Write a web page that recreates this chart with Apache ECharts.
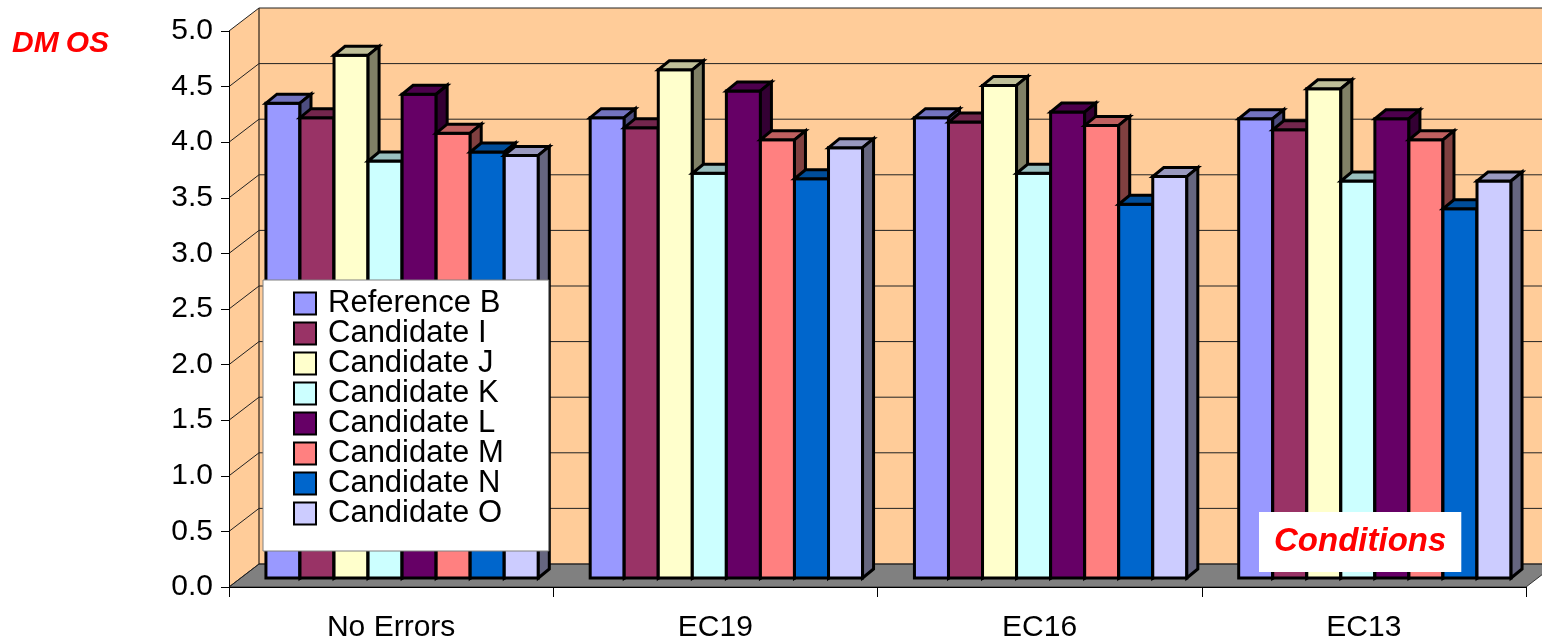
<!DOCTYPE html>
<html>
<head>
<meta charset="utf-8">
<script src="https://cdn.jsdelivr.net/npm/echarts@6/dist/echarts.min.js"></script>
<style>
  html, body { margin: 0; padding: 0; background: #ffffff; }
  #chart { width: 1542px; height: 643px; }
</style>
</head>
<body>
<div id="chart"></div>
<script>
// ---- data ----
const categories = ['No Errors', 'EC19', 'EC16', 'EC13'];
const seriesNames = ['Reference B', 'Candidate I', 'Candidate J', 'Candidate K',
                     'Candidate L', 'Candidate M', 'Candidate N', 'Candidate O'];
const referenceB = [4.27, 4.14, 4.14, 4.13];
const candidateI = [4.14, 4.05, 4.10, 4.03];
const candidateJ = [4.70, 4.57, 4.43, 4.40];
const candidateK = [3.75, 3.64, 3.64, 3.57];
const candidateL = [4.35, 4.38, 4.19, 4.13];
const candidateM = [4.00, 3.94, 4.07, 3.94];
const candidateN = [3.83, 3.59, 3.36, 3.32];
const candidateO = [3.80, 3.87, 3.61, 3.57];
const yTicks = [0, 0.5, 1, 1.5, 2, 2.5, 3, 3.5, 4, 4.5, 5];

const seriesValues = [referenceB, candidateI, candidateJ, candidateK,
                      candidateL, candidateM, candidateN, candidateO];
const seriesColors = ['#9999FF', '#993366', '#FFFFCC', '#CCFFFF',
                      '#660066', '#FF8080', '#0066CC', '#CCCCFF'];

// ---- 3D look ----
const WALL_DX = 30, WALL_DY = -23;     // depth of the whole plot box
const FRONT_DX = 11, FRONT_DY = -9;    // bar front plane inside the box
const BAR_DX = 11, BAR_DY = -9;        // depth of each bar
const GROUP_RATIO = 0.84;
const WALL_COLOR = '#FFCC99';
const FLOOR_COLOR = '#808080';
const FONT = 'Liberation Sans, Arial, sans-serif';

function shade(hex, k) {
  const n = parseInt(hex.slice(1), 16);
  const r = Math.round(((n >> 16) & 255) * k);
  const g = Math.round(((n >> 8) & 255) * k);
  const b = Math.round((n & 255) * k);
  return 'rgb(' + r + ',' + g + ',' + b + ')';
}

function renderWalls(params, api) {
  const cs = params.coordSys;
  const L = cs.x, R = cs.x + cs.width, T = cs.y, B = cs.y + cs.height;
  return {
    type: 'group',
    children: [
      { type: 'polygon', shape: { points: [[L, T], [L + WALL_DX, T + WALL_DY], [L + WALL_DX, B + WALL_DY], [L, B]] },
        style: { fill: WALL_COLOR } },
      { type: 'rect', shape: { x: L + WALL_DX, y: T + WALL_DY, width: cs.width, height: cs.height },
        style: { fill: WALL_COLOR } },
      { type: 'polygon', shape: { points: [[L, B], [R, B], [R + WALL_DX, B + WALL_DY], [L + WALL_DX, B + WALL_DY]] },
        style: { fill: FLOOR_COLOR, stroke: '#333', lineWidth: 1 } },
      { type: 'line', shape: { x1: L + WALL_DX, y1: T + WALL_DY, x2: L + WALL_DX, y2: B + WALL_DY },
        style: { stroke: '#000', lineWidth: 1 } }
    ]
  };
}

function renderGrid(params, api) {
  const cs = params.coordSys;
  const L = cs.x, R = cs.x + cs.width;
  const y = api.coord([0, api.value(1)])[1];
  return {
    type: 'group',
    children: [
      { type: 'line', shape: { x1: L + WALL_DX, y1: y + WALL_DY, x2: R + WALL_DX, y2: y + WALL_DY },
        style: { stroke: '#222', lineWidth: 1 } },
      { type: 'line', shape: { x1: L, y1: y, x2: L + WALL_DX, y2: y + WALL_DY },
        style: { stroke: '#222', lineWidth: 1 } }
    ]
  };
}

function makeBarRenderer(si) {
  const base = seriesColors[si];
  const topColor = shade(base, 0.75);
  const sideColor = shade(base, 0.5);
  return function (params, api) {
    const cat = api.value(0), v = api.value(1);
    const p0 = api.coord([cat, 0]);
    const p1 = api.coord([cat, v]);
    const band = api.size([1, 0])[0];
    const groupW = band * GROUP_RATIO;
    const w = groupW / seriesNames.length;
    const x0 = p0[0] - groupW / 2 + si * w + FRONT_DX;
    const x1 = x0 + w;
    const yb = p0[1] + FRONT_DY;
    const yt = p1[1] + FRONT_DY;
    const line = { stroke: '#000', lineWidth: 3, lineJoin: 'miter' };
    return {
      type: 'group',
      children: [
        { type: 'rect', shape: { x: x0, y: yt, width: w, height: yb - yt },
          style: Object.assign({ fill: base }, line) },
        { type: 'polygon', shape: { points: [[x0, yt], [x1, yt], [x1 + BAR_DX, yt + BAR_DY], [x0 + BAR_DX, yt + BAR_DY]] },
          style: Object.assign({ fill: topColor }, line) },
        { type: 'polygon', shape: { points: [[x1, yt], [x1 + BAR_DX, yt + BAR_DY], [x1 + BAR_DX, yb + BAR_DY], [x1, yb]] },
          style: Object.assign({ fill: sideColor }, line) }
      ]
    };
  };
}

const series = [
  { type: 'custom', name: 'walls', silent: true, z: 0, renderItem: renderWalls, data: [[0, 0]] },
  { type: 'custom', name: 'grid', silent: true, z: 1, renderItem: renderGrid, data: yTicks.map(t => [0, t]) }
];
seriesNames.forEach((name, si) => {
  series.push({
    type: 'custom',
    name: name,
    z: 2,
    itemStyle: { color: seriesColors[si] },
    renderItem: makeBarRenderer(si),
    data: seriesValues[si].map((v, i) => [i, v])
  });
});

const redTitle = { color: '#FF0000', fontFamily: FONT, fontWeight: 'bold', fontStyle: 'italic' };

const chart = echarts.init(document.getElementById('chart'), null, { renderer: 'canvas' });
chart.setOption({
  animation: false,
  backgroundColor: '#ffffff',
  title: [
    { text: '{a|DM}{b|OS}', left: 12, top: 29, padding: 0,
      textStyle: Object.assign({ fontSize: 30,
        rich: {
          a: Object.assign({ fontSize: 30 }, redTitle),
          b: Object.assign({ fontSize: 30, padding: [0, 0, 0, 7] }, redTitle)
        } }, redTitle) },
    { text: 'Conditions', left: 1259, top: 512, padding: [13, 15, 14, 15], backgroundColor: '#ffffff',
      textStyle: Object.assign({ fontSize: 33 }, redTitle) }
  ],
  legend: {
    orient: 'vertical',
    left: 263, top: 280,
    data: seriesNames,
    icon: 'path://M0,0H10V10H0Z',
    itemWidth: 36, itemHeight: 22, itemGap: -1,
    padding: [8, 45, 22, 30],
    backgroundColor: '#ffffff',
    borderColor: '#808080', borderWidth: 1,
    itemStyle: { borderColor: '#000', borderWidth: 2 },
    textStyle: { color: '#000', fontFamily: FONT, fontSize: 31, lineHeight: 30 },
    selectedMode: false
  },
  grid: { left: 229, top: 31, width: 1297, height: 558, containLabel: false },
  xAxis: {
    type: 'category',
    data: categories,
    z: 3,
    axisLine: { show: true, lineStyle: { color: '#000', width: 1 } },
    axisTick: { show: true, length: 10, alignWithLabel: false, lineStyle: { color: '#000' } },
    axisLabel: { color: '#000', fontFamily: FONT, fontSize: 30, margin: 26 },
    splitLine: { show: false }
  },
  yAxis: {
    type: 'value',
    min: 0, max: 5, interval: 0.5,
    z: 3,
    axisLine: { show: true, lineStyle: { color: '#000', width: 1 } },
    axisTick: { show: true, length: 8, lineStyle: { color: '#000' } },
    axisLabel: { color: '#000', fontFamily: FONT, fontSize: 30, margin: 16,
                 formatter: v => v.toFixed(1) },
    splitLine: { show: false }
  },
  series: series
});
</script>
</body>
</html>
